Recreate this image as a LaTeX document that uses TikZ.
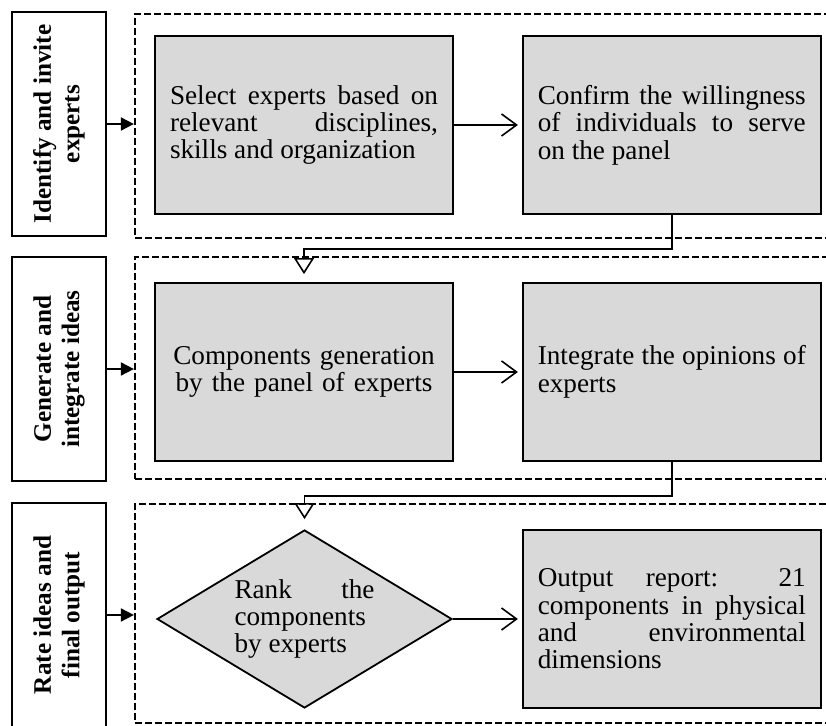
\documentclass[tikz,border=0pt]{standalone}
\usepackage{fontspec}
\setmainfont{Liberation Serif}
\usetikzlibrary{shapes,arrows.meta,positioning,calc}
\definecolor{boxgray}{RGB}{217,217,217}
\hyphenpenalty=10000
\exhyphenpenalty=10000
\tolerance=9999

\begin{document}
\begin{tikzpicture}[
    x=0.5pt, y=-0.5pt,
    phase/.style={rectangle, draw, line width=1.2pt, rotate=90, minimum width=112pt, minimum height=47pt, align=center, font=\bfseries\fontsize{12.6}{14.2}\selectfont},
    stagebox/.style={rectangle, draw, dashed, dash pattern=on 3.5pt off 1.5pt, line width=1.1pt, minimum width=355.5pt},
    box/.style={rectangle, draw, line width=0.9pt, fill=boxgray, text width=134pt, inner xsep=7.5pt, minimum height=89pt, align=justify, font=\fontsize{13.6}{13.7}\selectfont},
    rankbox/.style={diamond, draw, line width=0.9pt, fill=boxgray, aspect=1.66, minimum width=147.5pt, minimum height=89pt, text width=70pt, inner sep=2pt, align=justify, font=\fontsize{13.6}{13.7}\selectfont},
    flow/.style={-{Straight Barb[length=7.5pt,width=11pt]}, line width=0.8pt},
    feed/.style={-{Triangle[open,length=8pt,width=10pt]}, line width=0.8pt},
    enter/.style={-{Triangle[length=6.5pt,width=6.5pt]}, line width=0.9pt}
]
\useasboundingbox (0,0) rectangle (826,726);
\clip (0,0) rectangle (826,726);

% Phase labels
\node[phase] (identify) at (59,124) {Identify and invite\\experts};
\node[phase] (generate) at (59,369) {Generate and\\integrate ideas};
\node[phase] (rate) at (59,615) {Rate ideas and\\final output};

% Stage frames
\node[stagebox, minimum height=112pt] (stageA) at (490.5,126) {};
\node[stagebox, minimum height=111pt] (stageB) at (490.5,368) {};
\node[stagebox, minimum height=109.5pt] (stageC) at (490.5,613.5) {};

% Stage 1
\node[box] (select) at (304,125) {Select experts based on\linebreak relevant disciplines,\linebreak skills and organization};
\node[box, right=34pt of select] (confirm) {Confirm the willingness\linebreak of individuals to serve\linebreak on the panel};

% Stage 2
\node[box, align=center] (components) at (304,372) {Components generation\\by the panel of experts};
\node[box, right=34pt of components] (integrate) {Integrate the opinions of\linebreak experts};

% Stage 3
\node[rankbox] (rank) at (304.5,619) {Rank the\linebreak components\linebreak by experts};
\node[box] (output) at (confirm |- rank) {Output report: 21\linebreak components in physical\linebreak and environmental\linebreak dimensions};

% Arrows
\draw[enter] (identify) -- (identify -| stageA.west);
\draw[enter] (generate) -- (generate -| stageB.west);
\draw[enter] (rate) -- (rate -| stageC.west);
\draw[flow, shorten >=2pt] (select) -- (confirm);
\draw[flow, shorten >=2pt] (components) -- (integrate);
\draw[flow, shorten >=2pt] (rank) -- (output);
\draw[feed, shorten >=4pt] (confirm.south) -- ++(0,34) -| (components.north);
\draw[feed, shorten >=5pt] (integrate.south) -- ++(0,34) -| (rank.north);

\end{tikzpicture}
\end{document}
